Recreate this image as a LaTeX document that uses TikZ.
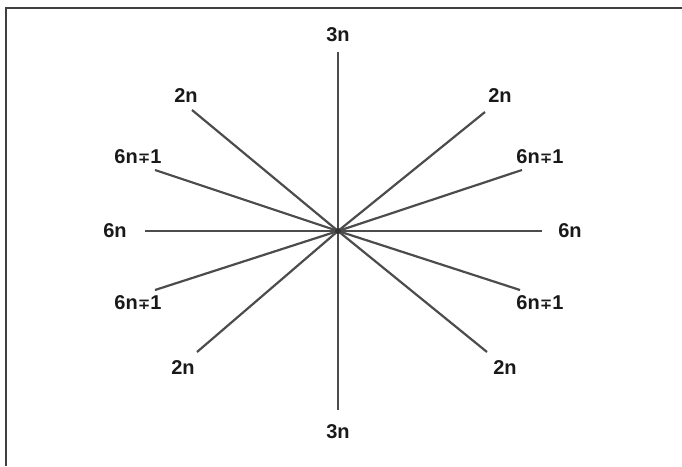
\documentclass[tikz,border=0pt]{standalone}
\usepackage{fontspec}
\setmainfont{Liberation Sans}
\newfontfamily\symfont{DejaVu Sans}
\newcommand{\mplbl}{6n{\symfont\fontsize{15}{15}\selectfont ∓}1}
\tikzset{
  ray/.style={draw=black!70, line width=2.2pt},
  lbl/.style={font=\bfseries\fontsize{20}{20}\selectfont, inner sep=0pt, text=black!90},
}
\begin{document}
\begin{tikzpicture}[x=1pt, y=-1pt]
    % Fix the page to the reference size (682 x 466)
    \useasboundingbox (0,0) rectangle (682,466);

    % Frame: only the top and left edges show
    \draw[black!75, line width=1.4pt] (6,466) -- (6,8) -- (682,8);

    % Centre of the star
    \coordinate (c) at (338,231);

    % Free ends of the rays
    \coordinate (up) at (338,52);
    \coordinate (dn) at (338,410);
    \coordinate (lf) at (145,231);
    \coordinate (rt) at (542,231);
    \coordinate (ul) at (192,110);
    \coordinate (ur) at (485,112);
    \coordinate (dl) at (197,352);
    \coordinate (dr) at (487,352);
    \coordinate (ml) at (155,170);
    \coordinate (mr) at (522,170);
    \coordinate (nl) at (155,290);
    \coordinate (nr) at (520,290);

    % Rays from the centre
    \foreach \e in {up,dn,lf,rt,ul,ur,dl,dr,ml,mr,nl,nr}
        \draw[ray] (c) -- (\e);
    \fill[black!80] (c) circle (3pt);

    % Labels
    \node[lbl] (t3n) at (338,35) {3n};
    \node[lbl] (b3n) at (338,432) {3n};
    \node[lbl] (l6n) at (115,231) {6n};
    \node[lbl] (r6n) at (570,231) {6n};
    \node[lbl] (ul2n) at (186,96) {2n};
    \node[lbl] (ur2n) at (500,96) {2n};
    \node[lbl] (dl2n) at (183,368) {2n};
    \node[lbl] (dr2n) at (505,368) {2n};
    \node[lbl] (ulpm) at (138,157) {\mplbl};
    \node[lbl] (urpm) at (540,157) {\mplbl};
    \node[lbl] (dlpm) at (138,303) {\mplbl};
    \node[lbl] (drpm) at (540,303) {\mplbl};
\end{tikzpicture}
\end{document}
